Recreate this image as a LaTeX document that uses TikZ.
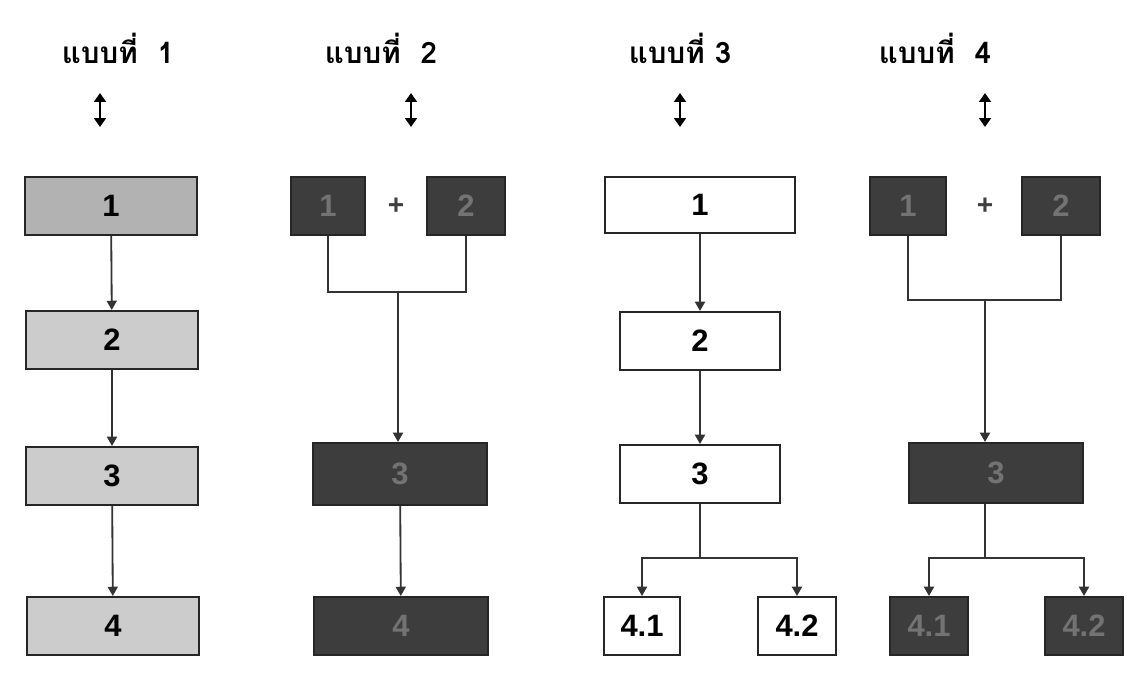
\documentclass[tikz,border=0pt]{standalone}
\usepackage{fontspec}
\setmainfont{Liberation Sans}
\newfontfamily\thaifont[Script=Thai]{Loma}
\usetikzlibrary{arrows.meta,positioning}

\tikzset{
  box/.style={draw=black!85, line width=1.5pt, inner sep=0pt, minimum height=1.45cm,
    font=\bfseries\fontsize{22}{22}\selectfont},
  lightbox/.style={box, fill=black!20},
  greybox/.style={box, fill=black!30},
  darkbox/.style={box, fill=black!76, text=black!55},
  whitebox/.style={box, fill=white},
  title/.style={font=\thaifont\bfseries\fontsize{21}{21}\selectfont},
  plus/.style={font=\bfseries\fontsize{20}{20}\selectfont, text=black!75},
  link/.style={draw=black!80, line width=1.3pt, -{Triangle[length=2.3mm,width=2.5mm]}},
  joinline/.style={draw=black!80, line width=1.3pt},
  updown/.style={line width=1.7pt, {Triangle[length=2.2mm,width=2.9mm]}-{Triangle[length=2.2mm,width=2.9mm]}},
}

\begin{document}
\begin{tikzpicture}[x=0.025cm, y=-0.025cm]
  \useasboundingbox[fill=white] (0,0) rectangle (1127,679);

  % Titles
  \node[title] (t1) at (118,48) {แบบที่~~1};
  \node[title] (t2) at (381,48) {แบบที่~~2};
  \node[title] (t3) at (680,48) {แบบที่ 3};
  \node[title] (t4) at (935,48) {แบบที่~~4};

  \coordinate (u1a) at (100,93);  \coordinate (u1b) at (100,127);
  \coordinate (u2a) at (411,93);  \coordinate (u2b) at (411,127);
  \coordinate (u3a) at (680,93);  \coordinate (u3b) at (680,127);
  \coordinate (u4a) at (985,93);  \coordinate (u4b) at (985,127);
  \foreach \i in {1,...,4}
    \draw[updown] (u\i a) -- (u\i b);

  % Define nodes: model 1
  \node[greybox, minimum width=4.3cm] (a1) at (111,206) {1};
  \node[lightbox, minimum width=4.3cm] (a2) at (112,340) {2};
  \node[lightbox, minimum width=4.3cm] (a3) at (112,476) {3};
  \node[lightbox, minimum width=4.3cm] (a4) at (113,626) {4};

  % model 2
  \node[darkbox, minimum width=1.83cm] (b1) at (328,206) {1};
  \node[plus] (bp) at (396,206) {+};
  \node[darkbox, minimum width=1.93cm] (b2) at (466,206) {2};
  \node[darkbox, minimum width=4.35cm, minimum height=1.55cm] (b3) at (400,474) {3};
  \node[darkbox, minimum width=4.33cm] (b4) at (401,626) {4};
  \coordinate (bj) at (398,292);

  % model 3
  \node[whitebox, minimum width=4.75cm, minimum height=1.4cm] (c1) at (700,205) {1};
  \node[whitebox, minimum width=4cm] (c2) at (700,341) {2};
  \node[whitebox, minimum width=4cm] (c3) at (700,474) {3};
  \node[whitebox, minimum width=1.9cm] (c41) at (642,626) {4.1};
  \node[whitebox, minimum width=1.93cm] (c42) at (797,626) {4.2};
  \coordinate (cj) at (700,558);

  % model 4
  \node[darkbox, minimum width=1.9cm] (d1) at (908,206) {1};
  \node[plus] (dp) at (985,206) {+};
  \node[darkbox, minimum width=1.95cm] (d2) at (1061,206) {2};
  \node[darkbox, minimum width=4.33cm, minimum height=1.5cm] (d3) at (996,473) {3};
  \node[darkbox, minimum width=1.95cm] (d41) at (929,626) {4.1};
  \node[darkbox, minimum width=1.95cm] (d42) at (1084,626) {4.2};
  \coordinate (dj) at (985,300);
  \coordinate (dk) at (985,558);

  % Connect the nodes
  \draw[link] (a1) -- (a2);
  \draw[link] (a2) -- (a3);
  \draw[link] (a3) -- (a4);

  \draw[joinline] (b1.south) |- (bj) -| (b2.south);
  \draw[link] (bj) -- (b3.north -| bj);
  \draw[link] (b3) -- (b4);

  \draw[link] (c1) -- (c2);
  \draw[link] (c2) -- (c3);
  \draw[joinline] (c3.south) -- (cj);
  \draw[link] (cj) -| (c41.north);
  \draw[link] (cj) -| (c42.north);

  \draw[joinline] (d1.south) |- (dj) -| (d2.south);
  \draw[link] (dj) -- (d3.north -| dj);
  \draw[joinline] (d3.south -| dk) -- (dk);
  \draw[link] (dk) -| (d41.north);
  \draw[link] (dk) -| (d42.north);

\end{tikzpicture}
\end{document}
